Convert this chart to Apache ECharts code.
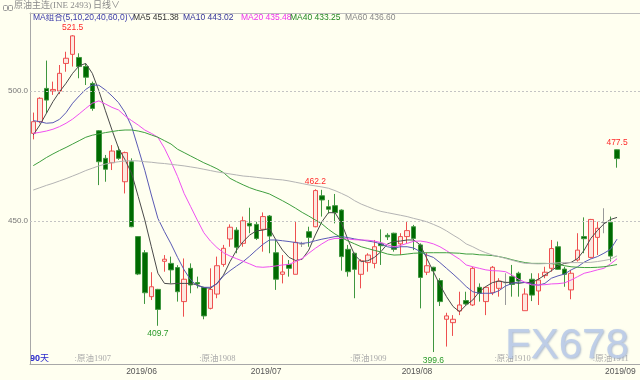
<!DOCTYPE html>
<html><head><meta charset="utf-8">
<script src="https://cdn.jsdelivr.net/npm/echarts@6/dist/echarts.min.js"></script>
<style>html,body{margin:0;padding:0;background:#fffff0}#c{width:640px;height:380px}</style>
</head><body><div id="c"></div>
<script>
// ---- data ----
const openV = [483.7,488.2,501.0,500.0,500.0,510.6,514.1,512.9,509.4,502.9,
484.7,474.1,472.4,477.1,465.1,472.8,444.0,437.8,420.9,423.7,
434.5,433.7,432.1,419.0,431.8,426.3,424.4,416.4,421.9,433.3,
443.1,446.5,441.4,449.1,448.7,446.8,451.9,437.8,429.5,433.3,
429.5,441.2,445.9,447.8,459.7,455.5,455.9,454.2,439.1,437.6,
429.5,434.0,433.7,441.4,444.5,445.3,441.2,444.0,447.8,440.8,
430.3,432.2,427.1,412.2,410.9,415.4,419.4,417.7,424.5,419.0,
422.4,424.1,426.3,428.6,429.9,415.5,427.6,423.1,429.0,431.8,
440.1,431.5,423.5,435.0,444.0,436.0,443.7,449.4,449.5,477.4];
const closeV = [488.2,497.2,496.5,500.6,506.8,512.6,521.2,509.4,505.3,493.3,
472.8,469.9,476.9,474.1,476.3,447.8,429.6,422.4,424.7,416.0,
435.3,431.2,422.8,427.6,425.4,425.8,413.5,423.7,432.8,439.5,
447.6,439.9,450.1,448.1,443.3,451.7,444.2,427.6,430.4,431.8,
441.8,441.2,443.7,461.7,458.1,454.5,453.2,436.3,430.5,431.4,
434.7,436.9,440.1,440.5,443.9,439.1,444.0,446.3,443.3,428.3,
432.8,430.8,419.0,413.5,412.2,417.7,418.1,431.8,422.2,424.5,
432.2,426.9,426.3,425.6,426.9,421.9,421.5,427.3,430.3,439.4,
431.4,429.5,429.9,438.8,443.2,450.6,447.2,449.4,436.5,474.0];
const lowV = [481.4,487.6,491.4,498.5,498.8,507.4,509.4,504.9,502.3,492.4,
463.8,465.1,469.6,473.5,460.6,447.6,429.2,418.1,419.6,409.7,
430.5,426.0,419.0,413.2,422.2,424.1,412.2,416.0,420.3,432.4,
440.1,437.6,440.1,445.3,442.7,438.2,437.6,423.5,426.0,428.6,
429.5,440.0,440.1,447.6,451.7,452.9,449.1,430.9,428.6,420.3,
424.1,430.5,431.8,433.1,442.7,438.2,436.9,441.4,438.8,416.4,
429.2,399.6,417.3,401.7,405.8,413.8,417.7,417.3,419.0,413.8,
421.5,420.9,417.7,420.9,420.9,415.5,419.2,417.7,428.0,430.5,
431.2,424.7,419.9,434.4,437.6,435.6,436.9,445.3,434.4,470.5];
const highV = [491.7,497.6,511.7,503.6,510.0,515.1,521.5,514.5,510.6,503.6,
485.0,475.4,479.2,478.6,476.7,474.1,444.2,438.8,430.3,423.9,
436.9,436.3,433.0,435.6,433.7,428.6,424.7,431.8,436.3,440.8,
448.7,447.6,451.7,455.1,449.7,453.3,452.3,442.7,436.9,435.0,
449.7,442.0,447.8,462.2,462.0,458.1,460.4,454.5,440.8,437.8,
435.3,437.6,442.7,446.8,445.3,445.5,445.3,449.7,448.5,441.4,
437.8,432.4,428.0,414.7,413.8,422.8,422.8,432.4,426.0,424.7,
432.7,428.0,429.9,433.1,430.5,424.1,429.9,429.9,432.4,442.7,
442.1,432.4,431.2,445.3,451.4,450.8,449.7,454.9,451.7,477.5];

const ma5 = [483.1,486.9,491.4,495.9,499.7,503.0,506.8,509.7,510.6,506.8,
500.1,492.4,485.0,478.0,473.5,468.3,459.4,450.4,440.1,429.9,
426.0,425.8,426.0,426.0,426.0,425.4,424.4,424.1,426.0,429.2,
434.4,438.8,442.1,444.6,446.2,446.5,447.1,442.7,438.8,436.0,
434.8,435.3,438.8,444.6,449.7,453.2,453.2,449.1,442.7,436.9,
434.4,434.7,436.0,438.2,441.2,442.1,442.3,442.7,442.7,440.8,
435.6,430.5,425.4,420.9,417.1,415.1,417.7,419.6,422.8,424.8,
426.3,426.9,426.4,426.4,426.0,426.4,426.3,427.6,429.2,430.9,
432.7,433.7,434.1,435.6,438.8,443.3,446.3,448.9,450.6,451.38];
const ma10 = [488.6,488.2,487.6,487.8,489.1,491.7,495.3,498.1,500.6,502.3,
502.2,500.4,498.1,495.5,491.7,486.3,478.0,469.5,460.0,451.0,
445.9,441.2,436.0,431.2,427.3,425.1,424.5,424.5,425.8,428.9,
430.9,432.7,434.4,436.5,438.8,441.0,442.7,442.7,442.4,442.1,
441.7,441.4,441.7,442.4,443.0,443.5,444.0,444.0,443.6,443.1,
442.7,442.3,441.9,441.2,440.1,439.6,440.1,440.1,439.6,438.2,
436.9,436.0,434.0,431.8,429.6,427.3,424.8,422.8,422.2,422.2,
422.2,423.2,425.0,426.0,426.5,426.3,425.8,425.3,426.0,428.0,
428.9,429.6,431.2,432.4,434.2,435.4,436.3,437.6,439.1,443.02];
const ma20 = [483.7,484.1,484.6,485.3,486.3,487.6,489.2,491.2,493.3,495.3,
496.2,495.0,493.7,492.7,490.4,488.6,486.9,485.0,483.7,482.2,
478.0,472.8,467.1,460.6,455.5,450.4,445.5,442.3,439.8,437.8,
436.5,435.5,434.5,433.5,432.4,432.2,432.4,432.7,433.1,433.3,
434.4,435.6,437.6,439.5,441.2,442.7,443.3,443.3,443.1,442.8,
442.7,442.6,442.3,441.7,440.8,440.1,440.6,441.4,442.2,442.3,
441.9,441.2,440.1,438.6,436.9,435.3,433.1,432.4,431.8,431.2,
430.9,430.8,430.5,429.2,427.6,426.4,425.4,425.4,425.5,425.8,
425.9,426.2,427.3,428.6,429.9,430.5,431.2,431.8,433.5,435.48];
const ma40 = [471.3,472.8,474.4,475.8,477.1,478.3,479.6,480.9,482.2,483.0,
483.5,484.0,484.4,484.8,485.0,485.0,484.6,484.0,483.1,482.2,
480.9,479.6,477.6,476.3,475.0,473.7,472.4,471.3,470.1,468.6,
466.4,465.1,463.9,462.8,461.9,461.2,460.4,459.1,457.8,456.4,
454.9,453.3,451.9,450.4,448.9,446.8,445.0,443.6,442.3,441.2,
440.1,439.4,438.7,438.1,437.3,436.9,437.0,437.3,437.6,437.7,
437.8,437.8,437.8,437.8,437.7,437.6,437.3,437.3,437.0,436.9,
436.7,436.3,435.8,435.1,434.5,434.0,433.7,433.7,433.7,433.6,
433.3,432.8,432.4,432.2,432.1,432.1,432.2,432.4,432.8,433.25];
const ma60 = [461.9,462.8,463.7,464.5,465.4,466.3,467.3,468.3,469.4,470.3,
471.2,471.9,472.4,472.8,473.1,473.2,473.1,472.8,472.6,472.3,
472.1,471.8,471.5,471.2,470.8,470.4,469.9,469.4,468.9,468.5,
468.1,467.7,467.3,467.1,466.8,466.5,466.3,466.0,465.8,465.4,
464.9,464.4,463.9,463.5,463.1,462.6,461.7,460.6,459.4,457.8,
456.5,455.5,454.5,453.7,453.2,452.7,452.2,451.7,451.0,450.4,
449.7,448.7,447.6,446.2,444.6,443.1,441.2,440.1,438.8,437.8,
436.9,436.3,435.6,434.9,434.2,433.7,433.6,433.5,433.6,433.7,
433.9,434.0,434.0,434.0,434.0,434.1,434.4,434.8,435.3,436.60];

const dayCount = 90;
const categories = Array.from({length: dayCount}, (_, i) => 'D' + (i + 1));
const yTickLabels = [450, 500];
const monthTickAt = [17, 36, 59, 90];
const monthTickLabels = ['2019/06', '2019/07', '2019/08', '2019/09'];
const rollAt = [6, 25, 48, 70, 85];
const rollLabels = [':原油1907', ':原油1908', ':原油1909', ':原油1910', ':原油1911'];
const extremeIdx = [6, 19, 43, 61, 89];
const extremeType = ['high', 'low', 'high', 'low', 'high'];
const maNames = ['MA5', 'MA10', 'MA20', 'MA40', 'MA60'];

// ---- build ----
const padBands = 3;
const axisCats = categories.concat(Array.from({length: padBands}, () => ''));
const totalBands = axisCats.length;
const kData = openV.map((o, i) => [o, closeV[i], lowV[i], highV[i]]);
const maData = [ma5, ma10, ma20, ma40, ma60];
const maColors = ['#4a4a4a', '#5a5ab4', '#f050f0', '#3f9f3f', '#b4b4b4'];
const sans = '"Liberation Sans", "Noto Sans CJK SC", sans-serif';
const serif = '"Liberation Serif", "Noto Sans CJK SC", serif';

const chart = echarts.init(document.getElementById('c'), null, {renderer: 'canvas', width: 640, height: 380});

const markData = extremeIdx.map((i, k) => {
  const hi = extremeType[k] === 'high';
  const v = hi ? highV[i] : lowV[i];
  return {
    coord: [i, v], value: v.toFixed(1), symbol: 'circle', symbolSize: 0.1,
    label: {show: true, position: hi ? 'top' : 'bottom', distance: hi ? 3 : 4,
      color: hi ? '#ff2a2a' : '#2a9a2a', fontSize: 8.5, fontFamily: sans,
      formatter: v.toFixed(1)}
  };
});

const series = [{
  type: 'candlestick', name: 'K', xAxisIndex: 0, yAxisIndex: 0, z: 2,
  data: kData, barWidth: 5,
  itemStyle: {color: '#fde8e0', borderColor: '#ee5050', color0: '#006a00',
    borderColor0: '#3f963f', borderColorDoji: '#999999', borderWidth: 1},
  markLine: {silent: true, symbol: ['none', 'none'], label: {show: false},
    lineStyle: {type: [2, 2], color: '#c4c4c4', width: 1},
    data: yTickLabels.map(v => ({yAxis: v}))},
  markPoint: {silent: true, data: markData}
}];
maData.forEach((d, k) => series.push({
  type: 'line', name: maNames[k], data: d, xAxisIndex: 0, yAxisIndex: 0,
  showSymbol: false, symbol: 'none', z: 3, silent: true,
  lineStyle: {color: maColors[k], width: 1}
}));

const legendItems = [
  {text: 'MA组合(5,10,20,40,60,0)∨', color: '#3a3aa8', x: 33}
].concat(maNames.map((n, k) => ({
  text: n + ' ' + maData[k][maData[k].length - 1].toFixed(2),
  color: ['#333333', '#333399', '#ee33ee', '#228822', '#888888'][k],
  x: [133, 183, 241, 290, 345][k]
})));

const option = {
  backgroundColor: '#fffff0',
  animation: false,
  grid: {left: 30, right: 0, top: 13, bottom: 16},
  xAxis: [
    {type: 'category', data: axisCats, boundaryGap: true,
      axisLine: {lineStyle: {color: '#a8a8a8'}}, axisTick: {show: false},
      axisLabel: {show: false}, splitLine: {show: false}},
    {type: 'value', min: 0, max: totalBands, position: 'bottom',
      axisLine: {show: false}, axisTick: {show: false}, splitLine: {show: false},
      axisLabel: {customValues: monthTickAt, margin: 3, color: '#555', fontSize: 8.5, fontFamily: sans,
        formatter: v => monthTickLabels[monthTickAt.indexOf(Math.round(v))] || ''}},
    {type: 'value', min: 0, max: totalBands, position: 'bottom',
      axisLine: {show: false}, axisTick: {show: false}, splitLine: {show: false},
      axisLabel: {inside: true, customValues: rollAt.map(i => i + 0.8), align: 'left', margin: 1,
        color: '#aaaaaa', fontSize: 8.5, fontFamily: serif,
        formatter: v => rollLabels[rollAt.indexOf(Math.round(v - 0.8))] || ''}},
    {type: 'value', min: 0, max: totalBands, position: 'top',
      axisLine: {show: true, lineStyle: {color: '#bdbdbd'}}, axisTick: {show: false},
      axisLabel: {show: false}, splitLine: {show: false}}
  ],
  yAxis: [{type: 'value', min: 395, max: 530, interval: 5, position: 'left',
    axisLine: {show: true, lineStyle: {color: '#a8a8a8'}}, axisTick: {show: false},
    splitLine: {show: false},
    axisLabel: {margin: 2, color: '#777', fontSize: 8, fontFamily: sans,
      formatter: v => yTickLabels.indexOf(v) >= 0 ? v.toFixed(1) : ''}}],
  series: series,
  graphic: [
    {type: 'rect', left: 1, top: 3, shape: {width: 4, height: 5, r: 1}, style: {fill: 'none', stroke: '#999', lineWidth: 1}},
    {type: 'rect', left: 6, top: 3, shape: {width: 4, height: 5, r: 1}, style: {fill: 'none', stroke: '#999', lineWidth: 1}},
    {type: 'text', left: 14, top: 1, style: {text: '原油主连(INE 2493)', fill: '#8a8a8a', font: '9px ' + serif}},
    {type: 'text', left: 93, top: 1, style: {text: '日线∨', fill: '#8a8a8a', font: '9px ' + serif}},
    {type: 'text', left: 30, top: 354, style: {
      text: '{a|90}{b|天}', rich: {a: {fill: '#2a2acc', fontSize: 9, fontWeight: 'bold', fontFamily: sans},
        b: {fill: '#2a2acc', fontSize: 9, fontFamily: sans}}}},
    {type: 'text', left: 505, top: 325, z: 10, style: {text: 'FX678', fill: 'rgba(190,206,232,0.95)',
      font: '42px ' + sans, textShadowColor: 'rgba(120,140,180,0.6)', textShadowBlur: 2,
      textShadowOffsetX: 1, textShadowOffsetY: 1}}
  ].concat(legendItems.map(it => ({type: 'text', left: it.x, top: 13,
    style: {text: it.text, fill: it.color, font: '8.5px ' + sans}})))
};
chart.setOption(option);
</script>
</body></html>
